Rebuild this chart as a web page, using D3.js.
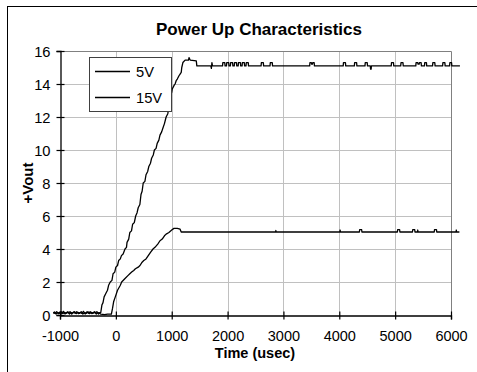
<!DOCTYPE html>
<html>
<head>
<meta charset="utf-8">
<script src="https://cdn.jsdelivr.net/npm/d3@7"></script>
<style>
  html, body { margin: 0; padding: 0; background: #fff; }
  svg { display: block; font-family: "Liberation Sans", Arial, sans-serif; }
</style>
</head>
<body>
<svg id="chart" width="477" height="372"></svg>
<script>
// ---- data (time in usec, output in volts) ----
const title = "Power Up Characteristics";
const xTicks = [-1000, 0, 1000, 2000, 3000, 4000, 5000, 6000];
const yTicks = [0, 2, 4, 6, 8, 10, 12, 14, 16];
const seriesNames = ["5V", "15V"];

const time15 = [
  -1120,-1090,-1060,-1030,-1000,-970,-940,-910,-880,-850,-820,-790,-760,-730,-700,-670,-640,-610,-580,-550,-520,-490,-460,-430,-400,-370,-340,-310,-285,
  -270,-250,-230,-210,-180,-150,-130,-100,-70,-50,-20,0,30,50,80,100,130,164,190,200,230,250,280,300,330,355,380,400,430,450,470,490,520,540,570,590,620,640,670,690,720,740,770,790,820,840,870,900,930,950,970,980,1000,1010,1040,1060,1080,1100,1130,1150,1170,1180,1200,1240,1300,1310,1330,1440,1450,
  1700,1710,1720,1730,
  1910,1915,1950,1955,1980,1985,2020,2025,2050,2055,2090,2095,2120,2125,2160,2165,2190,2195,2230,2235,2260,2265,2300,2305,2330,2335,2370,2375,
  2600,2605,2640,2645,2760,2765,2800,2805,
  3470,3475,3500,3505,3520,3525,3550,3555,
  4070,4075,4110,4115,4270,4275,4310,4315,4460,4465,4500,4505,4555,4560,4570,4575,
  4930,4935,4970,4975,5100,5105,5140,5145,5370,5375,5405,5410,5430,5435,5465,5470,5525,5530,5560,5565,
  5670,5675,5710,5715,5850,5855,5890,5895,5975,5980,6010,6015,6160
];
const volt15 = [
  0.15,0.1,0.2,0.08,0.18,0.1,0.22,0.06,0.16,0.12,0.2,0.05,0.18,0.1,0.2,0.08,0.15,0.1,0.22,0.06,0.18,0.1,0.2,0.08,0.16,0.12,0.2,0.06,0.15,
  0.15,0.6,0.75,1.1,1.3,1.5,1.8,2.0,2.1,2.5,2.6,2.9,3.0,3.3,3.4,3.6,3.7,4.0,4.1,4.4,4.6,5.0,5.1,5.5,5.6,6.0,6.2,6.5,6.7,7.3,7.5,8.0,8.1,8.5,8.7,9.0,9.2,9.5,9.7,10.0,10.1,10.4,10.6,10.9,11.1,11.3,11.6,12.0,12.2,12.6,12.8,13.3,13.5,13.7,13.9,14.0,14.2,14.3,14.5,14.6,14.7,15.0,15.3,15.45,15.45,15.6,15.45,15.4,15.1,
  15.1,14.95,15.3,15.1,
  15.1,15.3,15.3,15.1,15.1,15.3,15.3,15.1,15.1,15.3,15.3,15.1,15.1,15.3,15.3,15.1,15.1,15.3,15.3,15.1,15.1,15.3,15.3,15.1,15.1,15.3,15.3,15.1,
  15.1,15.3,15.3,15.1,15.1,15.3,15.3,15.1,
  15.1,15.3,15.3,15.2,15.2,15.3,15.3,15.1,
  15.1,15.3,15.3,15.1,15.1,15.3,15.3,15.1,15.1,15.3,15.3,15.1,15.1,14.9,14.9,15.1,
  15.1,15.3,15.3,15.1,15.1,15.3,15.3,15.1,15.1,15.3,15.3,15.2,15.2,15.3,15.3,15.1,15.1,15.3,15.3,15.1,
  15.1,15.3,15.3,15.1,15.1,15.3,15.3,15.1,15.1,15.3,15.3,15.1,15.1
];

const time5 = [
  -1120,-1100,-1070,-1040,-1010,-980,-950,-920,-890,-860,-830,-800,-770,-740,-710,-680,-650,-620,-590,-560,-530,-500,-470,-440,-410,-380,-350,-320,-290,
  -270,-200,-150,-80,-60,-40,-10,30,80,104,160,220,250,283,320,350,400,432,470,500,540,580,620,665,700,750,790,830,870,900,950,1000,1040,1100,1150,1170,
  2860,2865,2870,
  4010,4015,4020,4360,4365,4400,4405,5040,5045,5080,5085,5310,5315,5350,5355,5400,5405,5410,5700,5705,5740,5745,6090,6095,6100,6150
];
const volt5 = [
  0.1,0.18,0.06,0.15,0.1,0.2,0.08,0.16,0.1,0.2,0.06,0.15,0.12,0.2,0.08,0.16,0.1,0.2,0.06,0.14,0.1,0.2,0.08,0.16,0.1,0.2,0.06,0.15,0.1,
  0.05,0.02,0.05,0.05,0.4,0.8,1.1,1.5,1.8,2.0,2.2,2.4,2.5,2.6,2.7,2.8,2.9,3.0,3.2,3.3,3.4,3.6,3.8,4.0,4.1,4.3,4.5,4.6,4.8,4.9,5.0,5.15,5.25,5.25,5.2,5.03,
  5.03,5.12,5.03,
  5.03,5.15,5.03,5.03,5.18,5.18,5.03,5.03,5.18,5.18,5.03,5.03,5.18,5.18,5.03,5.03,5.15,5.03,5.03,5.18,5.18,5.03,5.03,5.15,5.03,5.03
];

// ---- drawing ----
const svg = d3.select("#chart");
const font = '"Liberation Sans", Arial, sans-serif';

// outer chart border (partly outside the window)
svg.append("rect").attr("x", 7.5).attr("y", 6.5).attr("width", 490).attr("height", 390)
  .attr("fill", "#fff").attr("stroke", "#000").attr("stroke-width", 1);

const x = d3.scaleLinear().domain([-1000, 6000]).range([60, 451]);
const y = d3.scaleLinear().domain([0, 16]).range([315, 51]);

// gridlines
const grid = svg.append("g");
grid.selectAll("line.v").data(xTicks.slice(1, -1)).join("line")
  .attr("x1", d => Math.round(x(d)) + 0.5).attr("x2", d => Math.round(x(d)) + 0.5)
  .attr("y1", y(16)).attr("y2", y(0)).attr("stroke", "#c0c0c0").attr("stroke-width", 1);
grid.selectAll("line.h").data(yTicks.slice(1, -1)).join("line")
  .attr("x1", x(-1000)).attr("x2", x(6000))
  .attr("y1", d => Math.round(y(d)) + 0.5).attr("y2", d => Math.round(y(d)) + 0.5)
  .attr("stroke", "#c0c0c0").attr("stroke-width", 1);
// plot-area border (top, right)
svg.append("path")
  .attr("d", `M${x(-1000)},${Math.round(y(16)) + 0.5}H${Math.round(x(6000)) + 0.5}V${y(0)}`)
  .attr("fill", "none").attr("stroke", "#808080").attr("stroke-width", 1);

// axes
const fmt = d => String(d);
const xAxis = svg.append("g").attr("transform", `translate(0,${Math.round(y(0)) + 0.5})`)
  .call(d3.axisBottom(x).tickValues(xTicks).tickFormat(fmt).tickSizeOuter(0).tickSize(4).tickPadding(0));
xAxis.select(".domain").attr("stroke", "#000").attr("stroke-width", 1.3);
xAxis.selectAll(".tick line").attr("y1", -4).attr("y2", 4).attr("stroke", "#000").attr("stroke-width", 1.2);
xAxis.selectAll(".tick text").attr("y", 25.5).attr("dy", null)
  .attr("font-size", "14.5px").attr("font-family", font).attr("fill", "#000");

const yAxis = svg.append("g").attr("transform", `translate(${Math.round(x(-1000)) + 0.5},0)`)
  .call(d3.axisLeft(y).tickValues(yTicks).tickFormat(fmt).tickSizeOuter(0).tickSize(4).tickPadding(0));
yAxis.select(".domain").attr("stroke", "#000").attr("stroke-width", 1.3);
yAxis.selectAll(".tick line").attr("x1", -4).attr("x2", 4).attr("stroke", "#000").attr("stroke-width", 1.2);
yAxis.selectAll(".tick text").attr("x", -10).attr("dy", "0.36em")
  .attr("font-size", "14.7px").attr("font-family", font).attr("fill", "#000");

// series lines
const line = d3.line().x(d => x(d[0])).y(d => y(d[1]));
const s5 = time5.map((t, i) => [t, volt5[i]]);
const s15 = time15.map((t, i) => [t, volt15[i]]);
[s5, s15].forEach(s => {
  svg.append("path").datum(s).attr("d", line)
    .attr("fill", "none").attr("stroke", "#000").attr("stroke-width", 1.3)
    .attr("stroke-linejoin", "round");
});

// title
svg.append("text").attr("x", 259).attr("y", 35).attr("text-anchor", "middle")
  .attr("font-size", "17px").attr("font-weight", "bold").attr("font-family", font)
  .text(title);

// axis titles
svg.append("text").attr("x", 255).attr("y", 357.5).attr("text-anchor", "middle")
  .attr("font-size", "14.5px").attr("font-weight", "bold").attr("font-family", font)
  .text("Time (usec)");
svg.append("text").attr("transform", "translate(33,183) rotate(-90)").attr("text-anchor", "middle")
  .attr("font-size", "15px").attr("font-weight", "bold").attr("font-family", font)
  .text("+Vout");

// legend
const lg = svg.append("g");
lg.append("rect").attr("x", 89.5).attr("y", 57.5).attr("width", 82).attr("height", 54)
  .attr("fill", "#fff").attr("stroke", "#404040").attr("stroke-width", 1);
seriesNames.forEach((name, i) => {
  const ly = 71.5 + i * 26;
  lg.append("line").attr("x1", 95).attr("x2", 130).attr("y1", ly).attr("y2", ly)
    .attr("stroke", "#000").attr("stroke-width", 1.3);
  lg.append("text").attr("x", 136).attr("y", ly + 5.5)
    .attr("font-size", "14.7px").attr("font-family", font).text(name);
});
</script>
</body>
</html>
